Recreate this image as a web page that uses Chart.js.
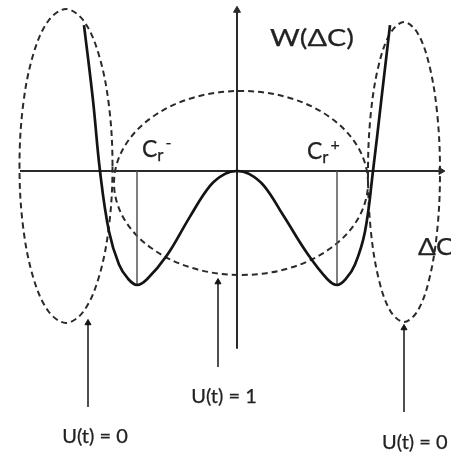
<!DOCTYPE html>
<html>
<head>
<meta charset="utf-8">
<script src="https://cdn.jsdelivr.net/npm/chart.js@4.4.1/dist/chart.umd.min.js"></script>
<style>
  html, body { margin: 0; padding: 0; background: #ffffff; }
  #wrap { width: 451px; height: 454px; }
</style>
</head>
<body>
<div id="wrap"><canvas id="c" width="451" height="454"></canvas></div>
<script>
// ---- data (ΔC on x, W(ΔC) on y; minima at ΔC = ±1, W = -1) ----
const curveX = [-1.53, -1.44, -1.37, -1.28, -1.18, -1.09, -1.00, -0.90, -0.70, -0.47, -0.27, -0.12, 0.00,
                 0.12,  0.27,  0.47,  0.70,  0.90,  1.00,  1.09,  1.18,  1.28,  1.36,  1.44,  1.53];
const curveW = [ 1.28,  0.62,  0.00, -0.53, -0.82, -0.945, -1.00, -0.95, -0.74, -0.40, -0.13, -0.025, 0.00,
                -0.025, -0.13, -0.40, -0.72, -0.945, -1.00, -0.945, -0.82, -0.53,  0.00,  0.60,  1.28];

const minimaX = [-1.00, 1.00];
const minimaW = [-1.00, -1.00];

const axisXRange = [-2.17, 2.04];
const axisYRange = [-1.56, 1.41];

// dashed regions, read around each loop
const loopLeftX  = [-1.245, -1.280, -1.381, -1.532, -1.710, -1.888, -2.039, -2.140, -2.175, -2.140, -2.039, -1.888, -1.710, -1.532, -1.381, -1.280];
const loopLeftY  = [ 0.044,  0.571,  1.018,  1.316,  1.421,  1.316,  1.018,  0.571,  0.044, -0.483, -0.930, -1.228, -1.333, -1.228, -0.930, -0.483];
const loopMidX   = [ 1.310,  1.213,  0.938,  0.526,  0.040, -0.446, -0.858, -1.133, -1.230, -1.133, -0.858, -0.446,  0.040,  0.526,  0.938,  1.213];
const loopMidY   = [-0.105,  0.204,  0.466,  0.641,  0.702,  0.641,  0.466,  0.204, -0.105, -0.414, -0.676, -0.851, -0.912, -0.851, -0.676, -0.414];
const loopRightX = [ 2.030,  2.003,  1.925,  1.808,  1.670,  1.532,  1.415,  1.337,  1.310,  1.337,  1.415,  1.532,  1.670,  1.808,  1.925,  2.003];
const loopRightY = [-0.009,  0.495,  0.921,  1.207,  1.307,  1.207,  0.921,  0.495, -0.009, -0.513, -0.939, -1.225, -1.325, -1.225, -0.939, -0.513];

const pointerX    = [-1.49, -0.19, 1.67];
const pointerBase = [-2.07, -1.72, -2.114];
const pointerTip  = [-1.333, -0.974, -1.377];
const pointerText = ['U(t) = 0', 'U(t) = 1', 'U(t) = 0'];

// ---- build datasets ----
const INK = '#141414';
const AX = '#2a2a2a';

function pts(xs, ys) { return xs.map((x, i) => ({ x: x, y: ys[i] })); }

function loopDataset(xs, ys) {
  const base = pts(xs, ys);
  const n = base.length;
  // wrap one point on each side so every visible piece gets smooth tangents
  const data = [base[n - 1]].concat(base, [base[0], base[1]]);
  const last = data.length - 2;
  return {
    data: data,
    borderColor: AX,
    borderWidth: 2,
    borderDash: [6, 4],
    tension: 0.35,
    pointRadius: 0,
    segment: {
      borderColor: ctx => (ctx.p0DataIndex === 0 || ctx.p0DataIndex === last) ? 'rgba(0,0,0,0)' : AX
    }
  };
}

const datasets = [];
// main curve (top-most)
datasets.push({
  data: pts(curveX, curveW),
  borderColor: INK,
  borderWidth: 2.7,
  tension: 0.4,
  pointRadius: 0
});
// vertical lines at the minima
minimaX.forEach((x, i) => {
  datasets.push({
    data: [{ x: x, y: 0 }, { x: x, y: minimaW[i] }],
    borderColor: '#555555',
    borderWidth: 1.5,
    pointRadius: 0
  });
});
// axes with arrowheads
datasets.push({
  data: [{ x: axisXRange[0], y: 0 }, { x: axisXRange[1], y: 0 }],
  borderColor: AX,
  borderWidth: 2,
  pointRadius: ctx => ctx.dataIndex === 1 ? 4 : 0,
  pointStyle: 'triangle',
  rotation: 90,
  pointBackgroundColor: AX,
  pointBorderColor: AX,
  pointBorderWidth: 1
});
datasets.push({
  data: [{ x: 0, y: axisYRange[0] }, { x: 0, y: axisYRange[1] }],
  borderColor: AX,
  borderWidth: 2,
  pointRadius: ctx => ctx.dataIndex === 1 ? 4 : 0,
  pointStyle: 'triangle',
  rotation: 0,
  pointBackgroundColor: AX,
  pointBorderColor: AX,
  pointBorderWidth: 1
});
// dashed loops
datasets.push(loopDataset(loopLeftX, loopLeftY));
datasets.push(loopDataset(loopMidX, loopMidY));
datasets.push(loopDataset(loopRightX, loopRightY));
// pointer arrows
pointerX.forEach((x, i) => {
  datasets.push({
    data: [{ x: x, y: pointerBase[i] }, { x: x, y: pointerTip[i] }],
    borderColor: INK,
    borderWidth: 1.5,
    pointRadius: ctx => ctx.dataIndex === 1 ? 3.5 : 0,
    pointStyle: 'triangle',
    pointBackgroundColor: INK,
    pointBorderColor: INK,
    pointBorderWidth: 1
  });
});

// ---- text labels, positioned in data units via the scales ----
const FONT = 'Lato, "Noto Sans", sans-serif';
const labelPlugin = {
  id: 'labels',
  afterDatasetsDraw(chart) {
    const ctx = chart.ctx;
    const sx = chart.scales.x, sy = chart.scales.y;
    const X = v => sx.getPixelForValue(v);
    const Y = v => sy.getPixelForValue(v);
    ctx.save();
    ctx.fillStyle = '#222222';
    ctx.strokeStyle = '#222222';
    ctx.lineWidth = 0.25;

    function put(text, px, py, sxf, align) {
      ctx.save();
      ctx.translate(px, py);
      ctx.scale(sxf, 1);
      ctx.textAlign = align;
      ctx.fillText(text, 0, 0);
      ctx.strokeText(text, 0, 0);
      ctx.restore();
    }

    // W(ΔC)
    ctx.font = '24px ' + FONT;
    ctx.textBaseline = 'middle';
    put('W(\u0394C)', X(0.33), Y(1.16), 1.2, 'left');

    // C_r^- and C_r^+
    function cr(x, yBase, sup) {
      ctx.textBaseline = 'alphabetic';
      ctx.font = '23px ' + FONT;
      const px = X(x), py = Y(yBase);
      put('C', px, py, 1, 'left');
      const wC = ctx.measureText('C').width;
      ctx.font = '17px ' + FONT;
      put('r', px + wC, py + 4, 1, 'left');
      const wr = ctx.measureText('r').width;
      ctx.font = '16px ' + FONT;
      put(sup, px + wC + wr + 2, py - 9, 1, 'left');
    }
    cr(-0.95, 0.123, '-');
    cr(0.70, 0.105, '+');

    // ΔC axis name
    ctx.font = '24px ' + FONT;
    ctx.textBaseline = 'middle';
    put('\u0394C', X(1.81), Y(-0.667), 1.1, 'left');

    // U(t) labels
    ctx.font = '20px ' + FONT;
    ctx.textBaseline = 'middle';
    put(pointerText[0], X(-1.42), Y(-2.33), 1, 'center');
    put(pointerText[1], X(-0.13), Y(-1.98), 1, 'center');
    put(pointerText[2], X(1.45), Y(-2.386), 1, 'left');
    ctx.restore();
  }
};

new Chart(document.getElementById('c'), {
  type: 'line',
  data: { datasets: datasets },
  options: {
    responsive: false,
    devicePixelRatio: 1,
    animation: false,
    events: [],
    layout: { padding: 0, autoPadding: false },
    plugins: { legend: { display: false }, tooltip: { enabled: false } },
    scales: {
      x: { type: 'linear', min: -2.37, max: 2.14, display: false },
      y: { type: 'linear', min: -2.4825, max: 1.5, display: false }
    }
  },
  plugins: [labelPlugin]
});
</script>
</body>
</html>
